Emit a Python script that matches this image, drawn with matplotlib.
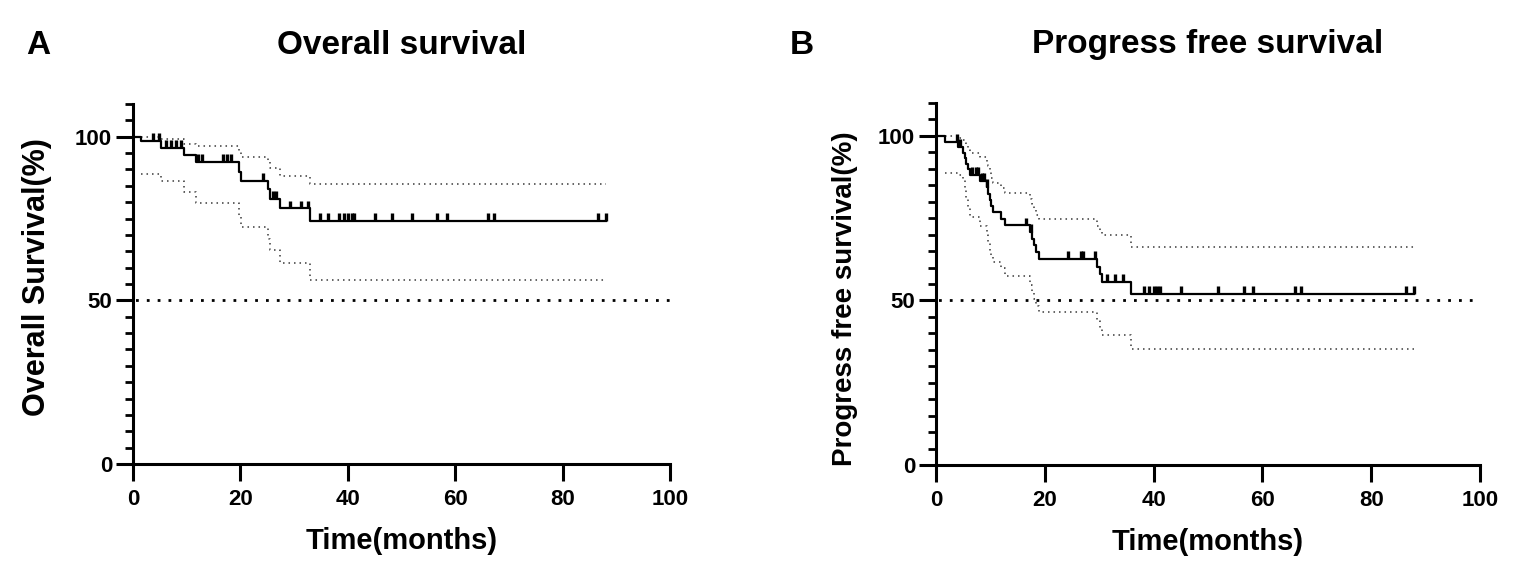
import numpy as np
import matplotlib
matplotlib.use("Agg")
import matplotlib.pyplot as plt
from matplotlib.ticker import MultipleLocator, FixedLocator

plt.rcParams['font.family'] = ['Liberation Sans', 'DejaVu Sans']
plt.rcParams['font.weight'] = 'bold'

# ---------------- data ----------------
# Overall survival (panel A)
os_event_t = [1.4, 5.3, 9.5, 11.8, 19.7, 20.2, 25.1, 25.6, 27.3, 33.0]
os_surv = [98.6, 96.6, 94.3, 92.2, 89.3, 86.6, 83.9, 81.0, 78.1, 74.2]
os_upper = [100.0, 99.4, 97.9, 97.2, 95.5, 93.9, 92.2, 90.4, 88.1, 85.6]
os_lower = [88.7, 86.6, 83.2, 79.8, 75.8, 72.3, 68.6, 65.5, 61.3, 56.1]
os_censor_t = [3.7, 4.8, 6.2, 7.1, 8.1, 9.0, 12.1, 12.9, 16.8, 17.5, 18.2,
               24.3, 26.1, 26.6, 29.2, 31.3, 32.5, 34.8, 36.3, 38.3, 39.2,
               40.1, 40.7, 41.1, 45.0, 48.3, 52.0, 56.7, 58.4, 66.1, 67.2,
               86.5, 88.0]
os_end = 88.0

# Progression free survival (panel B)
pfs_event_t = [1.6, 4.1, 5.0, 5.3, 5.6, 5.9, 6.25, 8.1, 9.3, 9.6, 9.9, 10.2,
               10.5, 12.0, 12.6, 17.3, 17.6, 18.0, 18.4, 19.0, 29.6, 30.1,
               30.6, 35.8]
pfs_surv = [98.3, 96.6, 94.9, 93.2, 91.5, 89.8, 88.1, 86.3, 84.4, 82.5, 80.6,
            78.7, 76.8, 74.8, 72.8, 70.7, 68.7, 66.7, 64.7, 62.6, 60.3, 58.0,
            55.7, 52.1]
pfs_upper = [100.0, 99.5, 98.8, 97.8, 96.8, 95.8, 94.8, 93.6, 92.2, 90.8,
             89.3, 87.2, 85.8, 84.3, 82.6, 80.8, 79.2, 77.6, 76.1, 74.6, 72.7,
             71.0, 69.8, 66.3]
pfs_lower = [88.7, 88.0, 86.5, 83.8, 80.8, 78.5, 75.5, 72.7, 70.0, 67.6, 64.8,
             63.3, 61.8, 59.8, 57.4, 54.8, 52.5, 50.3, 48.3, 46.4, 43.8, 41.5,
             39.6, 35.4]
pfs_censor_t = [3.8, 4.5, 6.7, 7.3, 7.8, 8.5, 8.9, 9.4, 16.5, 17.4, 24.3,
                26.6, 27.1, 29.3, 31.4, 32.9, 34.4, 38.2, 39.2, 40.1, 40.7,
                41.1, 45.0, 51.9, 56.6, 58.3, 66.0, 67.1, 86.4, 87.9]
pfs_end = 87.9

panel_letters = ["A", "B"]
titles = ["Overall survival", "Progress free survival"]
ylabels = ["Overall Survival(%)", "Progress free survival(%)"]
xlabel = "Time(months)"
x_ticks = [0, 20, 40, 60, 80, 100]
y_ticks = [0, 50, 100]
median_level = 50

# ---------------- figure ----------------
W, H = 1526, 570
fig = plt.figure(figsize=(W / 100, H / 100), dpi=100)

def px_axes(l, r, b, t):
    return fig.add_axes([l / W, 1 - b / H, (r - l) / W, (b - t) / H])

axA = px_axes(133, 670, 464, 104)
axB = px_axes(936, 1480, 465, 103)

def draw_km(ax, ev_t, surv, up, lo, cens_t, end_t):
    t = np.r_[0, ev_t, end_t]
    s = np.r_[100, surv, surv[-1]]
    ax.step(t, s, where='post', color='black', lw=1.6, zorder=4)
    tc = np.r_[ev_t, end_t]
    for ci in (up, lo):
        v = np.r_[ci, ci[-1]]
        ax.step(tc, v, where='post', color='#3a3a3a', lw=1.1,
                linestyle=(0, (1, 2.6)), zorder=3)
    # censor marks
    idx = np.searchsorted(np.asarray(t), np.asarray(cens_t), side='right') - 1
    sc = s[idx]
    ax.vlines(cens_t, sc, sc + 2.4, color='black', lw=2.4, zorder=5)

def style_axes(ax, ylabel, ylab_x, ylab_y, ylab_size):
    ax.set_xlim(0, 100)
    ax.set_ylim(0, 110)
    for sp in ['top', 'right']:
        ax.spines[sp].set_visible(False)
    for sp in ['left', 'bottom']:
        ax.spines[sp].set_linewidth(2.2)
    ax.xaxis.set_major_locator(FixedLocator(x_ticks))
    ax.yaxis.set_major_locator(FixedLocator(y_ticks))
    ax.yaxis.set_minor_locator(MultipleLocator(5))
    ax.tick_params(axis='both', which='major', length=12, width=2.2,
                   labelsize=16, direction='out')
    ax.tick_params(axis='x', which='major', pad=6)
    ax.tick_params(axis='y', which='major', pad=3)
    ax.tick_params(axis='y', which='minor', length=6, width=2.0)
    for lab in ax.get_xticklabels() + ax.get_yticklabels():
        lab.set_fontweight('bold')
    ax.set_xlabel(xlabel, fontsize=21, fontweight='bold')
    ax.xaxis.set_label_coords(0.5, -0.175)
    ax.set_ylabel(ylabel, fontsize=ylab_size, fontweight='bold')
    ax.yaxis.set_label_coords(ylab_x, ylab_y)
    ax.hlines(median_level, 0, 100, color='black', lw=2.0,
              linestyles=[(3, (1, 2.9))], zorder=2)
    ax.set_facecolor('white')

draw_km(axA, os_event_t, os_surv, os_upper, os_lower, os_censor_t, os_end)
draw_km(axB, pfs_event_t, pfs_surv, pfs_upper, pfs_lower, pfs_censor_t, pfs_end)
style_axes(axA, ylabels[0], -0.15, 0.52, 22)
style_axes(axB, ylabels[1], -0.143, 0.46, 20)

fig.text(402 / W, 1 - 45 / H, titles[0], ha='center', va='center',
         fontsize=24, fontweight='bold')
fig.text(1208 / W, 1 - 45 / H, titles[1], ha='center', va='center',
         fontsize=24, fontweight='bold')
fig.text(38 / W, 1 - 45 / H, panel_letters[0], ha='center', va='center',
         fontsize=24, fontweight='bold')
fig.text(802 / W, 1 - 45 / H, panel_letters[1], ha='center', va='center',
         fontsize=24, fontweight='bold')

fig.savefig("out.png", dpi=100, facecolor='white')
